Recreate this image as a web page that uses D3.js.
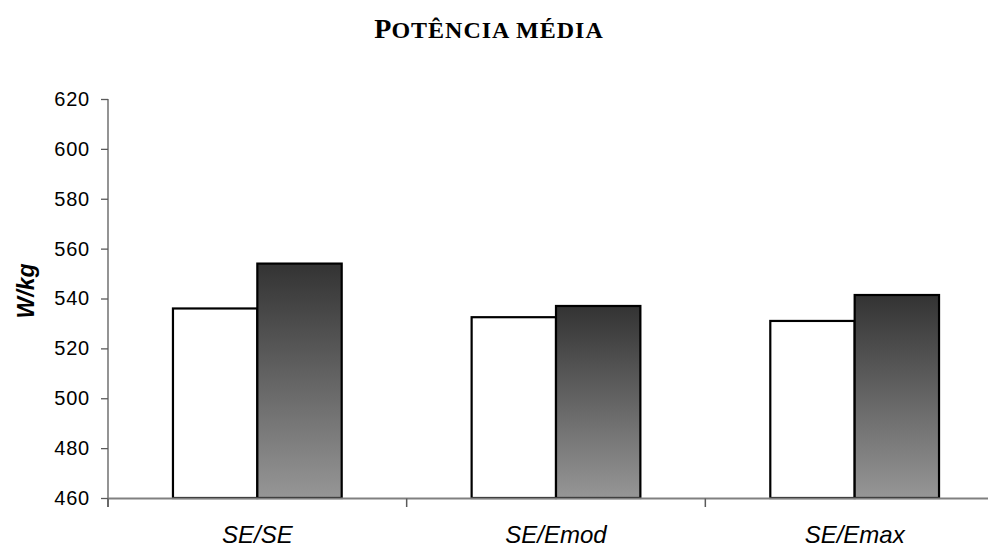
<!DOCTYPE html>
<html><head><meta charset="utf-8">
<script src="https://cdn.jsdelivr.net/npm/d3@7"></script>
<style>html,body{margin:0;padding:0;background:#fff;}svg{display:block;}</style>
</head><body>
<svg id="c" width="988" height="547"></svg>
<script>
const categories = ["SE/SE", "SE/Emod", "SE/Emax"];
const seriesNames = ["A", "B"];
const seriesA = [536, 532.5, 531];
const seriesB = [554, 537, 541.4];
const yTicks = [460, 480, 500, 520, 540, 560, 580, 600, 620];
const titleFirst = "P";
const titleRest = "OTÊNCIA MÉDIA";
const yTitle = "W/kg";

const svg = d3.select("#c");
const y = d3.scaleLinear().domain([460, 620]).range([498, 99]);
const x = d3.scaleBand().domain(categories).range([108, 1004]).padding(0);
const x1 = d3.scaleBand().domain(seriesNames).range([0, x.bandwidth()]).paddingInner(0).paddingOuter(0.77);

const defs = svg.append("defs");
const grad = defs.append("linearGradient").attr("id", "g").attr("x1", 0).attr("y1", 0).attr("x2", 0).attr("y2", 1);
grad.append("stop").attr("offset", "0%").attr("stop-color", "#333333");
grad.append("stop").attr("offset", "100%").attr("stop-color", "#969696");

// title (small caps)
const t = svg.append("text").attr("x", 489).attr("y", 38).attr("text-anchor", "middle")
  .style("font-family", "'Liberation Serif','Times New Roman',serif").style("font-weight", "bold");
t.append("tspan").style("font-size", "28px").text(titleFirst);
t.append("tspan").style("font-size", "24px").attr("letter-spacing", "1px").text(titleRest);

// y axis
const yAxis = svg.append("g").attr("transform", "translate(108,0)")
  .call(d3.axisLeft(y).tickValues(yTicks).tickSize(7).tickPadding(11).tickFormat(d3.format("d")));
yAxis.select(".domain").attr("stroke", "#5a5a5a").attr("stroke-width", 1.3).attr("d", "M0,99V507");
yAxis.selectAll(".tick line").attr("stroke", "#5a5a5a").attr("stroke-width", 1.3);
yAxis.selectAll(".tick text").style("font-family", "'Liberation Sans',Arial,sans-serif").style("font-size", "20px").attr("fill", "#000").attr("letter-spacing", "0.8px");

// bars
const data = categories.map((c, i) => ({c, vals: [{s: "A", v: seriesA[i]}, {s: "B", v: seriesB[i]}]}));
const g = svg.append("g");
g.selectAll("g").data(data).join("g").attr("transform", d => `translate(${x(d.c)},0)`)
  .selectAll("rect").data(d => d.vals).join("rect")
  .attr("x", d => x1(d.s)).attr("width", x1.bandwidth())
  .attr("y", d => y(d.v)).attr("height", d => y(460) - y(d.v))
  .attr("fill", d => d.s === "A" ? "#ffffff" : "url(#g)")
  .attr("stroke", "#000").attr("stroke-width", 2.2);

// x axis
const xAxis = svg.append("g").attr("transform", "translate(0,498.5)")
  .call(d3.axisBottom(x).tickSize(0).tickPadding(27));
xAxis.select(".domain").attr("stroke", "#808080").attr("stroke-width", 2).attr("d", "M108,0H988");
xAxis.selectAll(".tick text").style("font-family", "'Liberation Sans',Arial,sans-serif").style("font-style", "italic")
  .style("font-size", "24px").attr("fill", "#000");
// category boundary ticks
xAxis.selectAll(".bt").data(categories).join("line").attr("class", "bt")
  .attr("x1", d => x(d)).attr("x2", d => x(d)).attr("y1", 0).attr("y2", 8.5)
  .attr("stroke", "#5a5a5a").attr("stroke-width", 1.5);

// y title
svg.append("text").attr("transform", "translate(34,291) rotate(-90)").attr("text-anchor", "middle")
  .style("font-family", "'Liberation Sans',Arial,sans-serif").style("font-weight", "bold").style("font-style", "italic")
  .style("font-size", "23px").text(yTitle);
</script>
</body></html>
